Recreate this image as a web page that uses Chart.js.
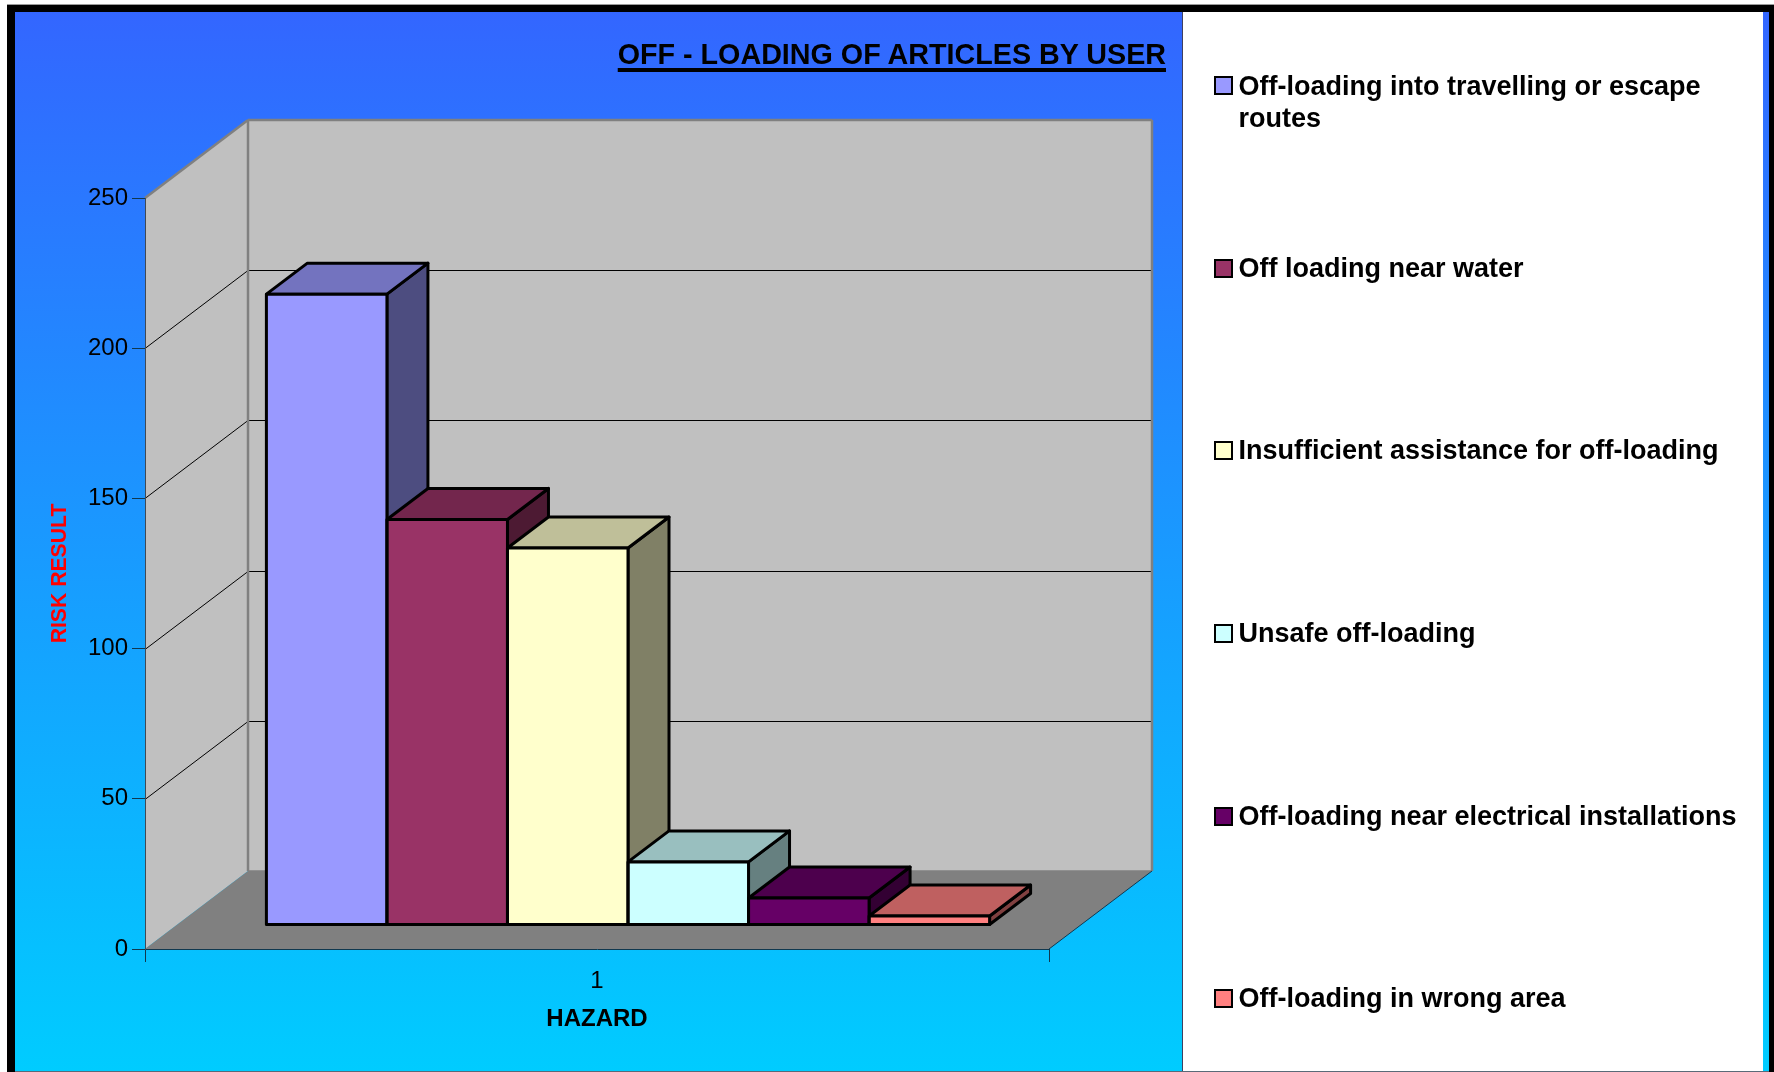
<!DOCTYPE html>
<html>
<head>
<meta charset="utf-8">
<title>Off-loading of articles by user</title>
<script src="https://cdn.jsdelivr.net/npm/chart.js@4"></script>
<style>
    html, body { margin: 0; padding: 0; background: #fff; }
    body { width: 1774px; height: 1072px; position: relative; overflow: hidden; font-family: "Liberation Sans", Arial, sans-serif; }
    #frame { position: absolute; left: 7px; top: 4px; width: 1767px; height: 1068px; box-sizing: border-box;
        border-top: 1px solid #9a9a9a; background: #000; }
    #gradient { position: absolute; left: 15px; top: 12px; width: 1754px; height: 1059px;
        background: linear-gradient(to bottom, #3366ff, #00ccff); }
    #panel { position: absolute; left: 1182px; top: 12px; width: 581px; height: 1059px; box-sizing: border-box;
        background: #fff; border-left: 1px solid #404060; }
    #bottom-line { position: absolute; left: 15px; top: 1071px; width: 1754px; height: 1px; background: #5a6a78; }
    #resultsChart { position: absolute; left: 0; top: 0; }
    #title { position: absolute; right: 608px; top: 38px; font-size: 28.7px; font-weight: bold; color: #000;
        white-space: nowrap; text-decoration: underline; text-decoration-thickness: 4px; text-underline-offset: 4px; }
    .legend-swatch { position: absolute; left: 1214px; width: 19px; height: 19px; box-sizing: border-box; border: 2px solid #000; }
    .legend-text { position: absolute; left: 1238.5px; width: 510px; font-size: 27px; line-height: 32px; font-weight: bold; color: #000; }
</style>
</head>
<body>
<div id="frame"></div>
<div id="gradient"></div>
<div id="panel"></div>
<div id="bottom-line"></div>
<canvas id="resultsChart" width="1774" height="1072"></canvas>
<div id="title">OFF - LOADING OF ARTICLES BY USER</div>
<div id="legend"></div>

<script>
// Chart data
const categories = ['1'];
const seriesNames = [
    'Off-loading into travelling or escape routes',
    'Off loading near water',
    'Insufficient assistance for off-loading',
    'Unsafe off-loading',
    'Off-loading near electrical installations',
    'Off-loading in wrong area'
];
const riskValues = [210, 135, 125.5, 21, 9, 3];
const seriesColors = ['#9999ff', '#993366', '#ffffcc', '#ccffff', '#660066', '#ff8080'];
const yTicks = [0, 50, 100, 150, 200, 250];
const legendCenters = [85.5, 268, 450, 633, 816, 998];

// Depth of the fake 3D box and of the bars, in pixels
const wallDepth = { x: 103, y: 78 };
const barDepth = { x: 41, y: 31 };
const barShift = { x: 31, y: -24 };

// Darken a #rrggbb colour (top face 75%, side face 50%)
function shade(hex, factor) {
    const n = parseInt(hex.slice(1), 16);
    const r = Math.round((n >> 16) * factor);
    const g = Math.round(((n >> 8) & 255) * factor);
    const b = Math.round((n & 255) * factor);
    return `rgb(${r},${g},${b})`;
}

function polygon(ctx, points, fill, stroke, width) {
    ctx.beginPath();
    points.forEach((p, i) => (i ? ctx.lineTo(p[0], p[1]) : ctx.moveTo(p[0], p[1])));
    ctx.closePath();
    if (fill) {
        ctx.fillStyle = fill;
        ctx.fill();
    }
    if (stroke) {
        ctx.strokeStyle = stroke;
        ctx.lineWidth = width;
        ctx.stroke();
    }
}

function line(ctx, x1, y1, x2, y2, color, width) {
    ctx.beginPath();
    ctx.moveTo(x1, y1);
    ctx.lineTo(x2, y2);
    ctx.strokeStyle = color;
    ctx.lineWidth = width;
    ctx.stroke();
}

// Walls and floor, behind the axes
const wallsPlugin = {
    id: 'walls',
    beforeDraw(chart) {
        const ctx = chart.ctx;
        const { left, right, top, bottom } = chart.chartArea;
        const dx = wallDepth.x;
        const dy = wallDepth.y;
        const y = chart.scales.y;
        ctx.save();
        polygon(ctx, [[left + dx, top - dy], [right + dx, top - dy], [right + dx, bottom - dy], [left + dx, bottom - dy]], '#c0c0c0');
        polygon(ctx, [[left, top], [left + dx, top - dy], [left + dx, bottom - dy], [left, bottom]], '#c0c0c0');
        polygon(ctx, [[left, bottom], [left + dx, bottom - dy], [right + dx, bottom - dy], [right, bottom]], '#808080');

        // Grid lines run along the side wall then the back wall
        yTicks.slice(1, -1).forEach(v => {
            const py = Math.round(y.getPixelForValue(v)) + 0.5;
            line(ctx, left, py, left + dx, py - dy, '#000', 1);
            line(ctx, left + dx, py - dy, right + dx, py - dy, '#000', 1);
        });

        // Grey edges of the walls
        line(ctx, left, top, left + dx, top - dy, '#808080', 2.5);
        line(ctx, left + dx, top - dy, right + dx, top - dy, '#808080', 2.5);
        line(ctx, left + dx, top - dy, left + dx, bottom - dy, '#808080', 2.5);
        line(ctx, right + dx, top - dy, right + dx, bottom - dy, '#808080', 2.5);
        line(ctx, left + dx, bottom - dy, right + dx, bottom - dy, '#808080', 1.5);
        line(ctx, right, bottom, right + dx, bottom - dy, '#10384f', 1);
        ctx.restore();
    }
};

// Bars: the library fills the front faces, the side and top faces are added around them
const barsPlugin = {
    id: 'bars3d',
    beforeDatasetsDraw(chart) {
        const ctx = chart.ctx;
        ctx.save();
        ctx.translate(barShift.x, barShift.y);
        ctx.lineJoin = 'round';
        chart.data.datasets.forEach((ds, i) => {
            const bar = chart.getDatasetMeta(i).data[0];
            const x1 = bar.x - bar.width / 2;
            const x2 = bar.x + bar.width / 2;
            const dx = barDepth.x;
            const dy = barDepth.y;
            polygon(ctx, [[x2, bar.y], [x2 + dx, bar.y - dy], [x2 + dx, bar.base - dy], [x2, bar.base]], shade(seriesColors[i], 0.5), '#000', 3);
            polygon(ctx, [[x1, bar.y], [x1 + dx, bar.y - dy], [x2 + dx, bar.y - dy], [x2, bar.y]], shade(seriesColors[i], 0.75), '#000', 3);
        });
    },
    afterDatasetsDraw(chart) {
        const ctx = chart.ctx;
        chart.data.datasets.forEach((ds, i) => {
            const bar = chart.getDatasetMeta(i).data[0];
            ctx.strokeStyle = '#000';
            ctx.lineWidth = 3;
            ctx.strokeRect(bar.x - bar.width / 2, bar.y, bar.width, bar.base - bar.y);
        });
        ctx.restore();
    }
};

const ctx = document.getElementById('resultsChart').getContext('2d');
const resultsChart = new Chart(ctx, {
    type: 'bar',
    data: {
        labels: categories,
        datasets: seriesNames.map((name, i) => ({
            label: name,
            data: [riskValues[i]],
            backgroundColor: seriesColors[i],
            borderWidth: 0
        }))
    },
    options: {
        responsive: false,
        animation: false,
        layout: { padding: { left: 0, right: 725, top: 198, bottom: 0 } },
        datasets: { bar: { categoryPercentage: 0.8, barPercentage: 1 } },
        font: { family: '"Liberation Sans", Arial, sans-serif' },
        scales: {
            x: {
                afterFit(scale) { scale.height = 123; },
                grid: { drawOnChartArea: false, tickLength: 13, color: '#10384f', lineWidth: 1 },
                border: { color: '#10384f', width: 1 },
                ticks: { color: '#000', padding: 4.5, font: { size: 24, family: '"Liberation Sans", Arial, sans-serif' } },
                title: {
                    display: true,
                    text: 'HAZARD',
                    color: '#000',
                    padding: { top: 38.5, bottom: 38.5 },
                    font: { size: 24, weight: 'bold', family: '"Liberation Sans", Arial, sans-serif' }
                }
            },
            y: {
                min: 0,
                max: 250,
                afterFit(scale) { scale.width = 145; },
                afterBuildTicks(scale) { scale.ticks = yTicks.map(v => ({ value: v })); },
                grid: { drawOnChartArea: false, tickLength: 13, color: '#10384f', lineWidth: 1 },
                border: { color: '#404a55', width: 1 },
                ticks: { color: '#000', padding: 4, font: { size: 24, family: '"Liberation Sans", Arial, sans-serif' } },
                title: {
                    display: true,
                    text: 'RISK RESULT',
                    color: '#ff0000',
                    padding: { top: 47.5, bottom: 0 },
                    font: { size: 21.2, weight: 'bold', family: '"Liberation Sans", Arial, sans-serif' }
                }
            }
        },
        plugins: {
            legend: { display: false },
            tooltip: { enabled: false }
        }
    },
    plugins: [wallsPlugin, barsPlugin]
});

// Legend in the white panel
const legend = document.getElementById('legend');
seriesNames.forEach((name, i) => {
    const swatch = document.createElement('div');
    swatch.className = 'legend-swatch';
    swatch.style.top = (legendCenters[i] - 9.5) + 'px';
    swatch.style.background = seriesColors[i];
    legend.appendChild(swatch);

    const text = document.createElement('div');
    text.className = 'legend-text';
    text.style.top = (legendCenters[i] - 16) + 'px';
    text.textContent = name;
    legend.appendChild(text);
});
</script>
</body>
</html>
